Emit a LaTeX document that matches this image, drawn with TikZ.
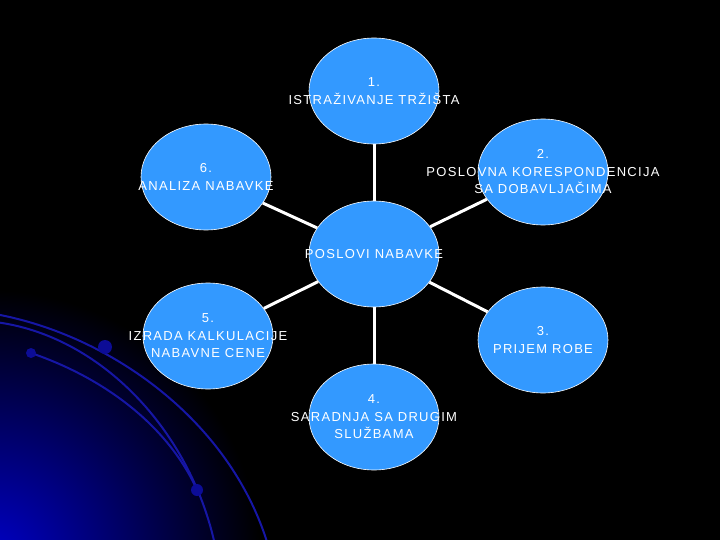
\documentclass[tikz,border=0pt]{standalone}
\usepackage{fontspec}
\newfontfamily\lab[LetterSpace=10]{Liberation Sans}
\usetikzlibrary{shapes.geometric}
\definecolor{krugplava}{RGB}{51,153,255}
\definecolor{lukplava}{RGB}{22,22,165}
\definecolor{tacka}{RGB}{12,12,150}
\definecolor{sjaj}{RGB}{0,0,200}
\begin{document}
\begin{tikzpicture}[x=1pt,y=-1pt,
  krug/.style={ellipse,draw=white,line width=0.6pt,fill=krugplava,minimum width=130pt,minimum height=106pt,inner sep=0pt},
  tekst/.style={text=white,align=center,inner sep=0pt,font=\lab\fontsize{13}{17.5}\selectfont},
  veza/.style={draw=white,line width=3pt},
  luk/.style={draw=lukplava,line width=2pt}]
\fill[black] (0,0) rectangle (720,540);
\useasboundingbox (0,0) rectangle (720,540);
% sjaj u donjem levom uglu
\begin{scope}
  \clip (0,0) rectangle (720,540);
  \shade[inner color=sjaj,outer color=black] (-10,560) circle (270pt);
  \draw[luk] (-5,314) .. controls (110,335) and (230,420) .. (268,545);
  \draw[luk] (-5,322) .. controls (100,335) and (190,430) .. (215,545);
  \draw[luk] (31,353) .. controls (110,380) and (170,430) .. (197,490);
  \fill[tacka] (105,347) circle (7pt);
  \fill[tacka] (31,353) circle (5pt);
  \fill[tacka] (197,490) circle (6pt);
\end{scope}
% krugovi
\node[krug] (p) at (374,254) {};
\node[krug] (n1) at (374,91) {};
\node[krug] (n2) at (543,172) {};
\node[krug] (n3) at (543,340) {};
\node[krug] (n4) at (374,417) {};
\node[krug] (n5) at (208,336) {};
\node[krug] (n6) at (206,177) {};
% veze
\draw[veza] (p) -- (n1);
\draw[veza] (p) -- (n2);
\draw[veza] (p) -- (n3);
\draw[veza] (p) -- (n4);
\draw[veza] (p) -- (n5);
\draw[veza] (p) -- (n6);
% tekstovi
\node[tekst] (tp) at (p) {POSLOVI NABAVKE};
\node[tekst] (t1) at (n1) {1.\\ISTRAŽIVANJE TRŽIŠTA};
\node[tekst] (t2) at (n2) {2.\\POSLOVNA KORESPONDENCIJA\\SA DOBAVLJAČIMA};
\node[tekst] (t3) at (n3) {3.\\PRIJEM ROBE};
\node[tekst] (t4) at (n4) {4.\\SARADNJA SA DRUGIM\\SLUŽBAMA};
\node[tekst] (t5) at (n5) {5.\\IZRADA KALKULACIJE\\NABAVNE CENE};
\node[tekst] (t6) at (n6) {6.\\ANALIZA NABAVKE};
\end{tikzpicture}
\end{document}
